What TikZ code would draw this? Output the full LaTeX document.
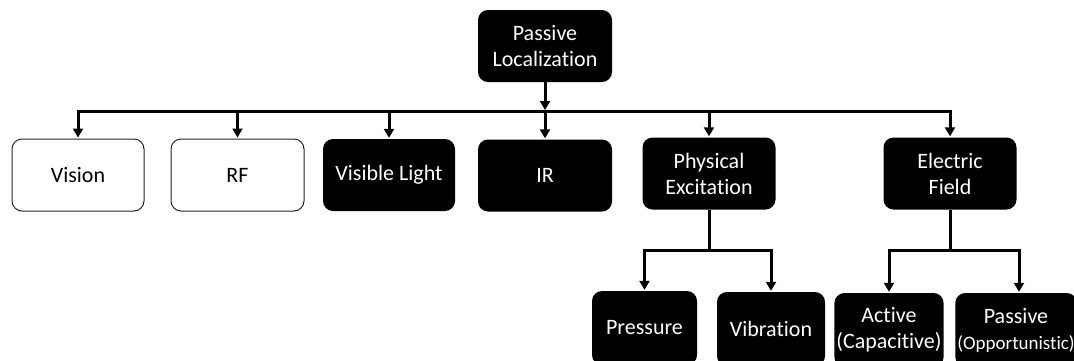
\documentclass[tikz,border=0pt]{standalone}
\usepackage{fontspec}
\setmainfont[Ligatures={NoCommon}]{Carlito}
\usepackage{tikz}
\usetikzlibrary{arrows.meta, positioning}

\begin{document}
\begin{tikzpicture}[
x=1pt, y=-1pt,
box/.style={rectangle, rounded corners=10pt, minimum height=72pt, align=center, font=\fontsize{22}{26}\selectfont, inner sep=2pt},
whitebox/.style={box, draw=black!85, line width=1pt, fill=white, text=black},
blackbox/.style={box, fill=black, text=white},
line/.style={line width=3pt},
arrow/.style={line, -{Triangle[length=9pt, width=10pt]}, shorten >=1pt}
]
\clip (0,0) rectangle (1074,360);

\node[blackbox, minimum width=134pt] (root) at (545,46) {Passive\\Localization};

\node[whitebox, minimum width=132pt] (vision) at (78,175) {Vision};
\node[whitebox, minimum width=133pt] (rf) at (237.5,175) {RF};
\node[blackbox, minimum width=132pt] (vlight) at (389,175) {Visible Light};
\node[blackbox, minimum width=134pt] (ir) at (545,175.5) {IR};
\node[blackbox, minimum width=133pt] (phys) at (709,173.5) {Physical\\Excitation};
\node[blackbox, minimum width=133pt] (efield) at (950,173.5) {Electric\\Field};

\node[blackbox, minimum width=105pt, minimum height=74pt] (pressure) at (644.5,328) {Pressure};
\node[blackbox, minimum width=108pt, minimum height=74pt] (vibration) at (771,329) {Vibration};
\node[blackbox, minimum width=106pt, minimum height=74pt] (active) at (889,330) {Active\\(Capacitive)};
\node[blackbox, minimum width=116pt, minimum height=74pt] (passive) at (1016,330) {Passive\\{\fontsize{19}{26}\selectfont(Opportunistic)}};

\coordinate (bus) at (545,111);
\coordinate (physbus) at (709,250);
\coordinate (efbus) at (950,250);

% main level
\draw[arrow] (root) -- (bus);
\draw[arrow] (bus) -- (ir);
\draw[arrow] (bus) -| (vision);
\draw[arrow] (bus) -| (rf);
\draw[arrow] (bus) -| (vlight);
\draw[arrow] (bus) -| (phys);
\draw[arrow] (bus) -| (efield);

% physical excitation
\draw[line] (phys) -- (physbus);
\draw[arrow] (physbus) -| (pressure);
\draw[arrow] (physbus) -| (vibration);

% electric field
\draw[line] (efield) -- (efbus);
\draw[arrow] (efbus) -| (active);
\draw[arrow] (efbus) -| ([xshift=3pt]passive.north);

\end{tikzpicture}
\end{document}
